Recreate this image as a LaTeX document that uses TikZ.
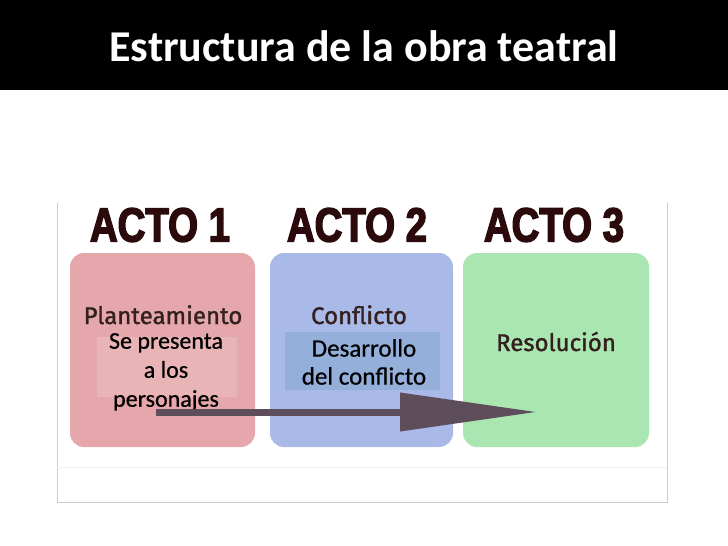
\documentclass[tikz,border=0pt]{standalone}
\usepackage{fontspec}
\setmainfont{Carlito}
\newfontface\actofont[FakeBold=3, FakeStretch=0.8]{Liberation Sans Bold}
\newfontface\roundfont[FakeBold=1.4]{Fira Sans}
\newfontface\descfont[FakeBold=0.6]{Carlito}
\usetikzlibrary{arrows.meta}
\definecolor{pinkbox}{HTML}{E5A7AB}
\definecolor{pinkhl}{HTML}{E9B4B6}
\definecolor{bluebox}{HTML}{AABAE8}
\definecolor{bluehl}{HTML}{93AFDA}
\definecolor{greenbox}{HTML}{A9E6B1}
\definecolor{actocol}{HTML}{2B0A0C}
\definecolor{labcol}{HTML}{33201F}
\definecolor{arrowcol}{HTML}{5E4E5B}
\definecolor{framecol}{HTML}{CCCCCC}
\tikzset{
  actbox/.style={rounded corners=14pt, draw=none},
  acttitle/.style={font=\actofont\fontsize{48}{48}\selectfont, text=actocol, inner sep=0pt},
  partlabel/.style={font=\roundfont\fontsize{24}{28}\selectfont, text=labcol, inner sep=0pt},
  desc/.style={font=\descfont\fontsize{24}{29}\selectfont, text=black, align=center, inner sep=0pt},
}
\begin{document}
\begin{tikzpicture}[x=1pt,y=-1pt]
\useasboundingbox (0,0) rectangle (728,546);
\fill[white] (0,0) rectangle (728,546);
% title bar
\fill[black] (0,0) rectangle (728,90);
\node[font=\bfseries\fontsize{44}{44}\selectfont, text=white] (title) at (364,46) {Estructura de la obra teatral};
% frame of embedded picture
\draw[framecol, line width=0.8pt] (57,203) -- (57,502) -- (667,502) -- (667,203);
\draw[black!6, line width=0.8pt] (57,467) -- (667,467);
% boxes
\fill[actbox, pinkbox] (70,253) rectangle (255,447);
\fill[actbox, bluebox] (270,253) rectangle (453,447);
\fill[actbox, greenbox] (463,253) rectangle (649,447);
\node[draw=none, inner sep=0pt, minimum width=185pt, minimum height=194pt] (b1) at (162.5,350) {};
\node[draw=none, inner sep=0pt, minimum width=183pt, minimum height=194pt] (b2) at (361.5,350) {};
\node[draw=none, inner sep=0pt, minimum width=186pt, minimum height=194pt] (b3) at (556,350) {};
% highlights
\fill[pinkhl] (97,337) rectangle (237,397);
\fill[bluehl] (285,332) rectangle (440,390);
% act titles
\node[acttitle] (a1) at (160,225) {ACTO 1};
\node[acttitle] (a2) at (357,225) {ACTO 2};
\node[acttitle] (a3) at (554,225) {ACTO 3};
% labels
\node[partlabel, anchor=base] (l1) at (163,324) {Planteamiento};
\node[partlabel, anchor=base] (l2) at (359,324) {Conflicto};
\node[partlabel, anchor=base] (l3) at (556,351) {Resolución};
\node[desc] (d1) at (166,372) {Se presenta\\a los\\personajes};
\node[desc, font=\descfont\fontsize{25}{28}\selectfont] (d2) at (364,362) {Desarrollo\\del conflicto};
% arrow
\coordinate (astart) at (156,412);
\coordinate (atip) at (537,412);
\draw[arrowcol, line width=7pt, -{Triangle[length=137pt,width=37pt]}] (astart) -- (atip);
\end{tikzpicture}
\end{document}
